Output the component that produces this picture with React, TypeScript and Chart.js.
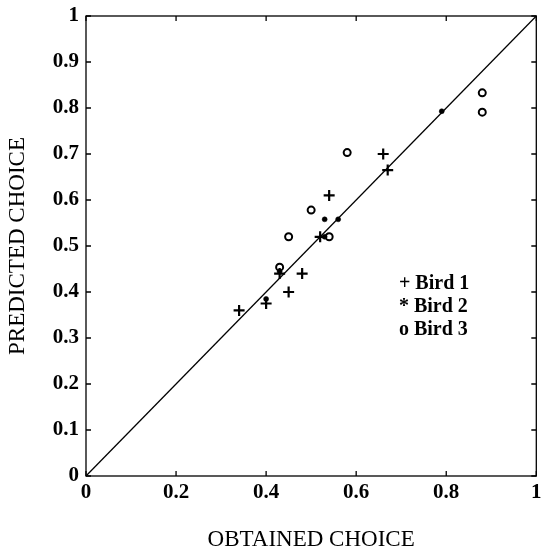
import { useEffect, useRef } from "react";
import { Chart, registerables } from "chart.js";
Chart.register(...registerables);

const bird1X = [0.34, 0.40, 0.43, 0.45, 0.48, 0.52, 0.54, 0.66, 0.67];
const bird1Y = [0.36, 0.375, 0.44, 0.40, 0.44, 0.52, 0.61, 0.70, 0.665];
const bird2X = [0.40, 0.43, 0.53, 0.53, 0.56, 0.79];
const bird2Y = [0.385, 0.445, 0.52, 0.558, 0.558, 0.793];
const bird3X = [0.43, 0.45, 0.50, 0.54, 0.58, 0.88, 0.88];
const bird3Y = [0.454, 0.52, 0.578, 0.52, 0.703, 0.833, 0.791];
const diagX = [0, 1];
const diagY = [0, 1];
const xTicks = [0, 0.2, 0.4, 0.6, 0.8, 1];
const yTicks = [0, 0.1, 0.2, 0.3, 0.4, 0.5, 0.6, 0.7, 0.8, 0.9, 1];
const legendLabels = ["+ Bird 1", "* Bird 2", "o Bird 3"];
const legendYs = [0.418, 0.368, 0.318];
const legendX = 0.695;
const xTitle = "OBTAINED CHOICE";
const yTitle = "PREDICTED CHOICE";

const SERIF = "'Liberation Serif', 'Times New Roman', serif";

const fmt = (v: number) => (v === 0 ? "0" : v === 1 ? "1" : v.toFixed(1));
const pts = (xs: number[], ys: number[]) => xs.map((x, i) => ({ x, y: ys[i] }));

const framePlugin = {
  id: "frame",
  afterDraw(chart: any) {
    const { ctx, chartArea: a, scales } = chart;
    const xs = scales.x;
    const ys = scales.y;
    ctx.save();
    ctx.strokeStyle = "#000";
    ctx.lineWidth = 1.3;
    ctx.strokeRect(a.left, a.top, a.right - a.left, a.bottom - a.top);
    ctx.beginPath();
    const tl = 5;
    xTicks.forEach((v) => {
      const px = xs.getPixelForValue(v);
      ctx.moveTo(px, a.bottom);
      ctx.lineTo(px, a.bottom - tl);
      ctx.moveTo(px, a.top);
      ctx.lineTo(px, a.top + tl);
    });
    yTicks.forEach((v) => {
      const py = ys.getPixelForValue(v);
      ctx.moveTo(a.left, py);
      ctx.lineTo(a.left + tl, py);
      ctx.moveTo(a.right, py);
      ctx.lineTo(a.right - tl, py);
    });
    ctx.stroke();

    ctx.fillStyle = "#000";
    ctx.font = `bold 20px ${SERIF}`;
    ctx.textAlign = "left";
    ctx.textBaseline = "middle";
    legendLabels.forEach((t, i) => {
      ctx.fillText(t, xs.getPixelForValue(legendX), ys.getPixelForValue(legendYs[i]));
    });

    ctx.font = `23px ${SERIF}`;
    ctx.textAlign = "center";
    ctx.textBaseline = "middle";
    ctx.fillText(xTitle, (a.left + a.right) / 2, 540);
    ctx.translate(18, (a.top + a.bottom) / 2);
    ctx.rotate(-Math.PI / 2);
    ctx.fillText(yTitle, 0, 0);
    ctx.restore();
  },
};

export default function App() {
  const ref = useRef<HTMLCanvasElement>(null);
  useEffect(() => {
    if (!ref.current) return;
    const chart = new Chart(ref.current, {
      type: "scatter",
      data: {
        datasets: [
          {
            label: "diag",
            data: pts(diagX, diagY),
            showLine: true,
            borderColor: "#000",
            borderWidth: 1.3,
            pointRadius: 0,
          },
          {
            label: "Bird 1",
            data: pts(bird1X, bird1Y),
            pointStyle: "cross",
            pointRadius: 5.5,
            borderColor: "#000",
            borderWidth: 2.2,
          },
          {
            label: "Bird 2",
            data: pts(bird2X, bird2Y),
            pointStyle: "circle",
            pointRadius: 2.5,
            backgroundColor: "#000",
            borderColor: "#000",
            borderWidth: 0.5,
          },
          {
            label: "Bird 3",
            data: pts(bird3X, bird3Y),
            pointStyle: "circle",
            pointRadius: 3.5,
            backgroundColor: "rgba(0,0,0,0)",
            borderColor: "#000",
            borderWidth: 2,
          },
        ],
      },
      options: {
        responsive: false,
        animation: false,
        layout: { padding: { left: 0, top: 16, right: 3, bottom: 0 } },
        plugins: { legend: { display: false }, tooltip: { enabled: false } },
        scales: {
          x: {
            type: "linear",
            min: 0,
            max: 1,
            grid: { display: false, drawTicks: false },
            border: { display: false },
            afterBuildTicks: (s: any) => {
              s.ticks = xTicks.map((v) => ({ value: v }));
            },
            afterFit: (s: any) => {
              s.height = 77;
              s.paddingLeft = 0;
              s.paddingRight = 0;
              s.paddingTop = 0;
              s.paddingBottom = 0;
            },
            ticks: {
              color: "#000",
              padding: 4,
              maxRotation: 0,
              autoSkip: false,
              font: { family: SERIF, size: 21, weight: "bold" },
              callback: (v: any) => fmt(Number(v)),
            },
          },
          y: {
            type: "linear",
            min: 0,
            max: 1,
            grid: { display: false, drawTicks: false },
            border: { display: false },
            afterBuildTicks: (s: any) => {
              s.ticks = yTicks.map((v) => ({ value: v }));
            },
            afterFit: (s: any) => {
              s.width = 86;
              s.paddingLeft = 0;
              s.paddingRight = 0;
              s.paddingTop = 0;
              s.paddingBottom = 0;
            },
            ticks: {
              color: "#000",
              padding: 7,
              autoSkip: false,
              font: { family: SERIF, size: 21, weight: "bold" },
              callback: (v: any) => fmt(Number(v)),
            },
          },
        },
      },
      plugins: [framePlugin],
    });
    return () => chart.destroy();
  }, []);
  return (
    <div style={{ position: "fixed", left: 0, top: 0, width: 544, height: 553, background: "#fff" }}>
      <canvas ref={ref} width={544} height={553} />
    </div>
  );
}
